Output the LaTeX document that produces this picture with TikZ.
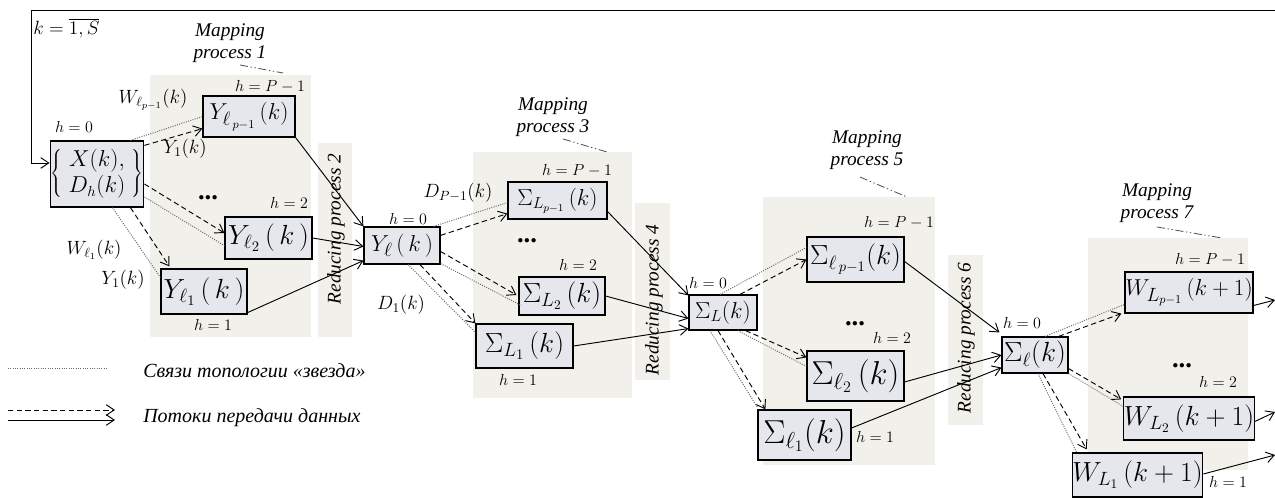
\documentclass[tikz,border=0pt]{standalone}
\usepackage{fontspec}
\setmainfont{Liberation Serif}
\usetikzlibrary{arrows.meta,calc}
\definecolor{boxfill}{RGB}{229,231,236}
\definecolor{regfill}{RGB}{241,240,234}
\definecolor{linkgray}{RGB}{110,110,110}
\begin{document}
\begin{tikzpicture}[x=0.75pt,y=-0.75pt,
  >={Straight Barb[length=6pt,width=8pt]},
  box/.style={draw=black, line width=0.9pt, fill=boxfill, inner sep=0pt},
  sz/.style 2 args={minimum width=#1*0.75pt, minimum height=#2*0.75pt},
  fs/.style={font=\fontsize{#1}{#1}\selectfont},
  lbl/.style={font=\fontsize{12.5}{14}\selectfont, inner sep=0pt},
  lblm/.style={font=\fontsize{14}{16}\selectfont, inner sep=0pt},
  dots/.style={font=\fontsize{20}{20}\selectfont\bfseries, inner sep=0pt},
  mp/.style={font=\fontsize{14.5}{17}\selectfont\itshape, align=center, inner sep=0pt},
  rp/.style={font=\fontsize{14.5}{16}\selectfont\itshape, rotate=90, inner sep=0pt},
  legtext/.style={font=\fontsize{15}{17}\selectfont\itshape, inner sep=0pt, anchor=west},
  regionbox/.style={fill=regfill, draw=none},
  starlink/.style={draw=linkgray, densely dotted, line width=0.75pt},
  flowarrow/.style={draw=black, dash pattern=on 4pt off 2.5pt, line width=0.7pt, ->},
  solidarrow/.style={draw=black, line width=0.7pt, ->},
  mpline/.style={draw=black!70, dash pattern=on 6pt off 2pt on 1pt off 2pt on 1pt off 2pt, line width=0.6pt}
]
\useasboundingbox (0,0) rectangle (1275,498);
\fill[white] (0,0) rectangle (1275,498);

% shaded regions
\fill[regionbox] (150,75) rectangle (311,337);
\fill[regionbox] (318,143) rectangle (352,337);
\fill[regionbox] (473,152) rectangle (632,398);
\fill[regionbox] (635,203) rectangle (670,380);
\fill[regionbox] (763,197) rectangle (935,465);
\fill[regionbox] (948,255) rectangle (983,425);
\fill[regionbox] (1088,238) rectangle (1248,470);

% process labels
\node[rp] (r2) at (336,229) {Reducing process 2};
\node[rp] (r4) at (654,300) {Reducing process 4};
\node[rp] (r6) at (966,338) {Reducing process 6};
\node[mp] (m1) at (230,43) {Mapping\\process 1};
\node[mp] (m3) at (553,117) {Mapping\\process 3};
\node[mp] (m5) at (867,150) {Mapping\\process 5};
\node[mp] (m7) at (1157,203) {Mapping\\process 7};
\coordinate (m1a) at (240,65); \coordinate (m1b) at (283,73);
\coordinate (m3a) at (563,139); \coordinate (m3b) at (607,152);
\coordinate (m5a) at (860,177); \coordinate (m5b) at (907,197);
\coordinate (m7a) at (1157,227); \coordinate (m7b) at (1222,238);
\draw[mpline] (m1a) -- (m1b);
\draw[mpline] (m3a) -- (m3b);
\draw[mpline] (m5a) -- (m5b);
\draw[mpline] (m7a) -- (m7b);

% boxes
\node[box, sz={90}{66}, fs=16] (X) at (97,174)
  {$\left\{\begin{array}{c} X(k),\\[2pt] D_h(k)\end{array}\right\}$};
\node[box, sz={92}{41}, fs=19] (Yp) at (249,116.5) {$Y_{\ell_{\,p-1}}\,(k)$};
\node[box, sz={87}{42}, fs=21] (Y2) at (268.5,238) {$Y_{\ell_2}\,(\,k\,)$};
\node[box, sz={86}{45}, fs=21] (Y1) at (204,291.5) {$Y_{\ell_1}\,(\,k\,)$};
\node[box, sz={76}{37}, fs=19] (Yl) at (402,245.5) {$Y_{\ell}\,(\,k\,)$};
\node[box, sz={99}{37}, fs=17] (SLp) at (557.5,200.5) {$\Sigma_{L_{p-1}}\,(k)$};
\node[box, sz={86}{38}, fs=20] (SL2) at (562,296) {$\Sigma_{L_2}\,(k)$};
\node[box, sz={97}{44}, fs=22] (SL1) at (524.5,346) {$\Sigma_{L_1}\,(k)$};
\node[box, sz={68}{35}, fs=18] (SL) at (723,312.5) {$\Sigma_{L}(k)$};
\node[box, sz={97}{45}, fs=21] (Slp) at (855.5,259.5) {$\Sigma_{\ell_{\,p-1}}(k)$};
\node[box, sz={97}{50}, fs=23] (Sl2) at (855.5,376) {$\Sigma_{\ell_2}\,(k)$};
\node[box, sz={93}{50}, fs=23] (Sl1) at (804.5,435) {$\Sigma_{\ell_1}(k)$};
\node[box, sz={66}{36}, fs=20] (Sl) at (1035,355) {$\Sigma_{\ell}(k)$};
\node[box, sz={128}{41}, fs=19] (WLp) at (1189,292.5) {$W_{L_{p-1}}\,(k+1)$};
\node[box, sz={128}{43}, fs=20] (WL2) at (1189,418.5) {$W_{L_2}\,(k+1)$};
\node[box, sz={125}{44}, fs=20] (WL1) at (1137.5,475) {$W_{L_1}\,(k+1)$};

% feedback loop
\coordinate (fbR) at (1275,10);
\coordinate (fbL) at (31,10);
\draw[solidarrow] (fbR) -- (fbL) |- ([shift={(0,-11)}]X.west);
\node[lblm, anchor=west] (klab) at (33,28) {$k=\overline{1,S}$};

% labels
\node[lbl] (hX) at (74,127) {$h=0$};
\node[lbl] (hYp) at (270,87) {$h=P-1$};
\node[lblm] (wYp) at (153,100) {$W_{\ell_{p-1}}(k)$};
\node[lblm] (y1a) at (185,149) {$Y_1(k)$};
\node[dots] (d1) at (208,198) {...};
\node[lbl] (hY2) at (289,203) {$h=2$};
\node[lblm] (wY1) at (94,250) {$W_{\ell_1}(k)$};
\node[lblm] (y1b) at (123,280) {$Y_1(k)$};
\node[lbl] (hY1) at (213,325) {$h=1$};
\node[lbl] (hYl) at (408,219) {$h=0$};
\node[lbl] (hSLp) at (577,171) {$h=P-1$};
\node[lblm] (dp) at (458,193) {$D_{P-1}(k)$};
\node[dots] (d3) at (527,241) {...};
\node[lbl] (hSL2) at (578,265) {$h=2$};
\node[lblm] (d1l) at (401,305) {$D_1(k)$};
\node[lbl] (hSL1) at (518,380) {$h=1$};
\node[lbl] (hSL) at (708,283) {$h=0$};
\node[lbl] (hSlp) at (899,223) {$h=P-1$};
\node[dots] (d5) at (855,324) {...};
\node[lbl] (hSl2) at (892,338) {$h=2$};
\node[lbl] (hSl1) at (875,437) {$h=1$};
\node[lbl] (hSl) at (1022,323) {$h=0$};
\node[lbl] (hWLp) at (1210,260) {$h=P-1$};
\node[dots] (d7) at (1182,366) {...};
\node[lbl] (hWL2) at (1218,382) {$h=2$};
\node[lbl] (hWL1) at (1228,482) {$h=1$};

% X -> Y
\draw[starlink] ([shift={(-14,0)}]X.north east) -- (Yp.west);
\draw[flowarrow] ([shift={(0,5)}]X.north east) -- ([shift={(0,-9)}]Yp.south west);
\draw[flowarrow] ([shift={(0,10)}]X.east) -- ([shift={(0,-5)}]Y2.west);
\draw[starlink] ([shift={(0,23)}]X.east) -- ([shift={(0,-14)}]Y2.south west);
\draw[starlink] ([shift={(-32,0)}]X.south east) -- ([shift={(0,9)}]Y1.north west);
\draw[flowarrow] ([shift={(-14,0)}]X.south east) -- ([shift={(9,-2)}]Y1.north west);
% Y -> Yl
\draw[solidarrow] (Yp.south east) -- (Yl.north west);
\draw[solidarrow] (Y2.east) -- ([shift={(0,1)}]Yl.west);
\draw[solidarrow] ([shift={(0,-2)}]Y1.south east) -- ([shift={(0,-4)}]Yl.south west);
% Yl -> SL
\draw[starlink] ([shift={(-7,0)}]Yl.north east) -- ([shift={(0,2)}]SLp.west);
\draw[flowarrow] ([shift={(0,9)}]Yl.north east) -- ([shift={(0,-6)}]SLp.south west);
\draw[flowarrow] ([shift={(0,6)}]Yl.east) -- ([shift={(-2,-1)}]SL2.west);
\draw[starlink] ([shift={(0,-1)}]Yl.south east) -- ([shift={(3,-10)}]SL2.south west);
\draw[starlink] ([shift={(6,0)}]Yl.south) -- ([shift={(0,9)}]SL1.north west);
\draw[flowarrow] ([shift={(18,0)}]Yl.south) -- (SL1.north west);
% SL* -> SL
\draw[solidarrow] ([shift={(0,-8)}]SLp.south east) -- ([shift={(0,1)}]SL.north west);
\draw[solidarrow] (SL2.east) -- ([shift={(0,6)}]SL.west);
\draw[solidarrow] (SL1.east) -- ([shift={(0,-2)}]SL.south west);
% SL -> Sl*
\draw[starlink] ([shift={(-3,0)}]SL.north) -- ([shift={(0,-12)}]Slp.west);
\draw[flowarrow] ([shift={(17,0)}]SL.north) -- (Slp.west);
\draw[flowarrow] ([shift={(-12,0)}]SL.south east) -- ([shift={(0,7)}]Sl2.north west);
\draw[starlink] ([shift={(-20,0)}]SL.south east) -- ([shift={(0,16)}]Sl2.north west);
\draw[starlink] ([shift={(-13,0)}]SL.south) -- ([shift={(0,-2)}]Sl1.north west);
\draw[flowarrow] ([shift={(-5,0)}]SL.south) -- ([shift={(8,0)}]Sl1.north west);
% Sl* -> Sl
\draw[solidarrow] ([shift={(0,2)}]Slp.east) -- ([shift={(-2,-4)}]Sl.north west);
\draw[solidarrow] ([shift={(0,6)}]Sl2.east) -- (Sl.west);
\draw[solidarrow] ([shift={(0,-7)}]Sl1.east) -- ([shift={(0,-6)}]Sl.south west);
% Sl -> WL*
\draw[starlink] ([shift={(10,0)}]Sl.north) -- ([shift={(0,12)}]WLp.west);
\draw[flowarrow] ([shift={(-10,0)}]Sl.north east) -- ([shift={(-3,0)}]WLp.south west);
\draw[flowarrow] ([shift={(0,-5)}]Sl.south east) -- ([shift={(-2,3)}]WL2.north west);
\draw[starlink] (Sl.south east) -- ([shift={(0,10)}]WL2.north west);
\draw[starlink] ([shift={(3,0)}]Sl.south) -- ([shift={(5,0)}]WL1.north west);
\draw[flowarrow] ([shift={(8,0)}]Sl.south) -- ([shift={(15,-3)}]WL1.north west);
% outputs
\coordinate (o1) at (1275,300);
\coordinate (o2) at (1275,412);
\coordinate (o3) at (1275,455);
\draw[solidarrow] ([shift={(0,13)}]WLp.east) -- (o1);
\draw[solidarrow] ([shift={(0,3)}]WL2.east) -- (o2);
\draw[solidarrow] ([shift={(0,-1)}]WL1.east) -- (o3);

% legend
\coordinate (la1) at (8,369); \coordinate (la2) at (107,369);
\coordinate (lb1) at (8,410); \coordinate (lb2) at (115,410);
\coordinate (lc1) at (8,420); \coordinate (lc2) at (115,420);
\draw[starlink] (la1) -- (la2);
\draw[flowarrow] (lb1) -- (lb2);
\draw[solidarrow] (lc1) -- (lc2);
\node[legtext] (lt1) at (143,371) {Связи топологии «звезда»};
\node[legtext] (lt2) at (143,418) {Потоки передачи данных};
\end{tikzpicture}
\end{document}
